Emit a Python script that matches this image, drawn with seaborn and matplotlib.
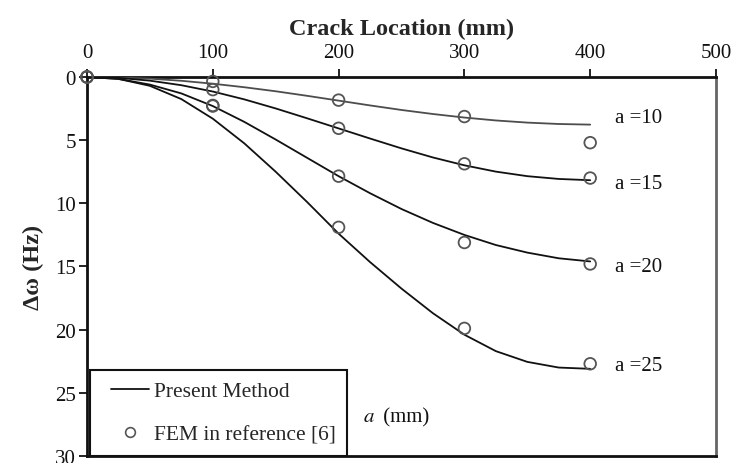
import matplotlib
matplotlib.use("Agg")
import matplotlib.pyplot as plt
from matplotlib.lines import Line2D
from matplotlib.legend_handler import HandlerLine2D
import numpy as np
import pandas as pd
import seaborn as sns

# Crack location along the beam (mm)
x_line = [0, 25, 50, 75, 100, 125, 150, 175, 200, 225, 250, 275, 300, 325, 350, 375, 400]

# Present method: frequency drop (Hz) for each crack depth a (mm)
line_a10 = [0, 0.03, 0.13, 0.30, 0.53, 0.81, 1.13, 1.49, 1.87, 2.25, 2.61, 2.93, 3.21, 3.44, 3.61, 3.72, 3.77]
line_a15 = [0, 0.07, 0.29, 0.65, 1.15, 1.77, 2.49, 3.27, 4.07, 4.87, 5.65, 6.37, 6.99, 7.49, 7.85, 8.07, 8.17]
line_a20 = [0, 0.15, 0.60, 1.30, 2.30, 3.55, 4.95, 6.40, 7.85, 9.20, 10.45, 11.55, 12.50, 13.30, 13.90, 14.35, 14.60]
line_a25 = [0, 0.15, 0.70, 1.75, 3.30, 5.25, 7.50, 9.90, 12.40, 14.65, 16.75, 18.70, 20.40, 21.70, 22.55, 23.00, 23.10]

# FEM results from reference [6]
x_fem = [0, 100, 200, 300, 400]
fem_a10 = [0, 0.35, 1.83, 3.13, 5.20]
fem_a15 = [0, 1.00, 4.06, 6.87, 8.00]
fem_a20 = [0, 2.25, 7.85, 13.10, 14.80]
fem_a25 = [0, 2.30, 11.90, 19.90, 22.70]

depths = [10, 15, 20, 25]
depth_labels = ["a =10", "a =15", "a =20", "a =25"]

sns.set_theme(style="white")
plt.rcParams["font.family"] = ["Liberation Serif", "DejaVu Serif"]
plt.rcParams["mathtext.fontset"] = "stix"

fig = plt.figure(figsize=(7.33, 4.64), dpi=100)
ax = fig.add_axes([0.1187, 0.0151, 0.8581, 0.8168])

lines_df = pd.DataFrame({
    "x": x_line * 4,
    "dw": line_a10 + line_a15 + line_a20 + line_a25,
    "a": np.repeat(depths, len(x_line)),
})
fem_df = pd.DataFrame({
    "x": x_fem * 4,
    "dw": fem_a10 + fem_a15 + fem_a20 + fem_a25,
    "a": np.repeat(depths, len(x_fem)),
})

line_colors = {10: "#4d4d4d", 15: "#111111", 20: "#111111", 25: "#111111"}
for a in depths:
    sns.lineplot(data=lines_df[lines_df["a"] == a], x="x", y="dw", color=line_colors[a],
                 lw=1.3, ax=ax, legend=False, zorder=3, solid_joinstyle="round")

sns.scatterplot(data=fem_df, x="x", y="dw", marker="o", s=70, facecolors="none",
                edgecolor="#555555", linewidth=1.3, ax=ax, legend=False, zorder=4,
                clip_on=False)

# Crack-depth annotations at the right end of each curve
label_y = [3.2, 8.4, 15.0, 22.8]
for txt, yv in zip(depth_labels, label_y):
    ax.text(420, yv, txt, fontsize=15, va="center", ha="left", color="#111111")

ax.text(219, 26.9, "$a$", fontsize=15, va="center", ha="left", color="#111111")
ax.text(231, 26.9, " (mm)", fontsize=15, va="center", ha="left", color="#111111")

ax.set_xlim(0, 500)
ax.set_ylim(30, 0)
ax.set_xticks([0, 100, 200, 300, 400, 500])
ax.set_yticks([0, 5, 10, 15, 20, 25, 30])
ax.xaxis.tick_top()
ax.xaxis.set_label_position("top")
ax.set_xlabel("Crack Location (mm)", fontsize=17.5, fontweight="bold", labelpad=6)
ax.set_ylabel("Δω (Hz)", fontsize=17.5, fontweight="bold", labelpad=8,
              family=["Liberation Serif", "DejaVu Serif"])
ax.tick_params(axis="both", which="major", labelsize=15, length=6, width=1.3,
               direction="out", color="#111111", colors="#111111")
ax.tick_params(axis="x", top=True, bottom=False, pad=5)
ax.tick_params(axis="y", left=True, pad=2)

for side in ["top", "left", "bottom"]:
    ax.spines[side].set_color("#111111")
    ax.spines[side].set_linewidth(2.0)
ax.spines["right"].set_color("#666666")
ax.spines["right"].set_linewidth(2.0)

handles = [
    Line2D([], [], color="#111111", lw=1.3),
    Line2D([], [], color="#555555", lw=0, marker="o", markersize=7,
           markerfacecolor="none", markeredgewidth=1.2),
]
leg = ax.legend(handles, ["Present Method", "FEM in reference [6]"],
                loc="lower left", bbox_to_anchor=(0.005, 0.0), borderaxespad=0,
                fontsize=15.5, frameon=True, fancybox=False, handlelength=2.2,
                handletextpad=0.2, labelspacing=1.05, borderpad=0.55,
                handler_map={Line2D: HandlerLine2D(xpad=0.42)})
leg.get_frame().set_edgecolor("#111111")
leg.get_frame().set_linewidth(1.5)
leg.get_frame().set_alpha(1)

fig.savefig("out.png", dpi=100, facecolor="white")
